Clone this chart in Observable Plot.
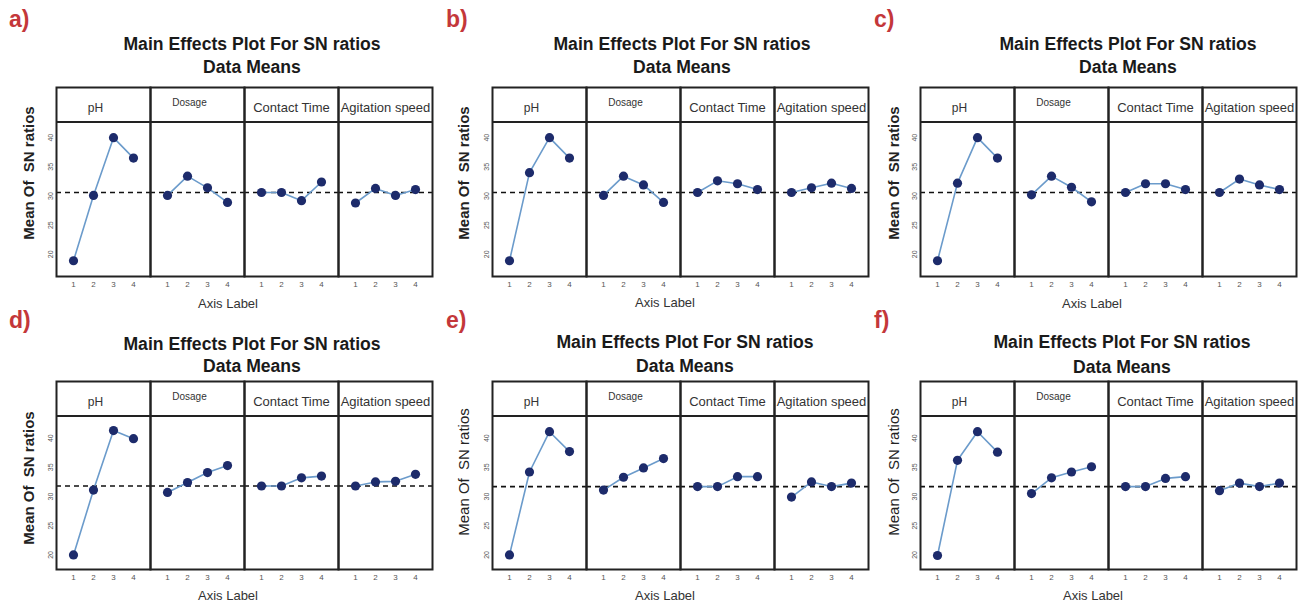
<!DOCTYPE html>
<html><head><meta charset="utf-8">
<script src="https://cdn.jsdelivr.net/npm/d3@7"></script>
<script src="https://cdn.jsdelivr.net/npm/@observablehq/plot@0.6"></script>
<style>
body{margin:0;background:#fff;font-family:"Liberation Sans",Arial,sans-serif;}
#root{position:relative;width:1304px;height:606px;overflow:hidden;background:#fff;}
.abs{position:absolute;white-space:pre;line-height:1;}
.letter{font-size:23px;font-weight:bold;color:#c4373a;}
.title{font-size:17.6px;font-weight:bold;color:#1a1a1a;transform:translate(-50%,-50%);}
.axl{font-size:13px;color:#333;transform:translate(-50%,-50%);}
.yl{font-size:15px;color:#222;transform:translate(-50%,-50%) rotate(-90deg);}
#root svg{position:absolute;overflow:visible;}
</style></head><body><div id="root"></div>
<script>
// ---- data ----
const factors = ["pH", "Dosage", "Contact Time", "Agitation speed"];
const levels = [1, 2, 3, 4];
const yTicks = [20, 25, 30, 35, 40];
const panelLetters = ["a)", "b)", "c)", "d)", "e)", "f)"];
const titleText = "Main Effects Plot For SN ratios";
const subtitleText = "Data Means";
const xAxisLabel = "Axis Label";
const yAxisLabel = "Mean Of  SN ratios";

const a_pH = [18.9, 30.1, 40.0, 36.5];
const a_dosage = [30.1, 33.4, 31.4, 28.9];
const a_time = [30.6, 30.6, 29.2, 32.4];
const a_speed = [28.8, 31.3, 30.1, 31.1];

const b_pH = [18.9, 34.0, 40.0, 36.5];
const b_dosage = [30.1, 33.4, 31.9, 28.9];
const b_time = [30.6, 32.6, 32.1, 31.1];
const b_speed = [30.6, 31.4, 32.2, 31.3];

const c_pH = [18.9, 32.2, 40.0, 36.5];
const c_dosage = [30.2, 33.4, 31.5, 29.0];
const c_time = [30.6, 32.1, 32.1, 31.1];
const c_speed = [30.6, 32.9, 31.9, 31.1];

const d_pH = [20.0, 31.1, 41.3, 39.9];
const d_dosage = [30.7, 32.4, 34.1, 35.3];
const d_time = [31.8, 31.8, 33.2, 33.5];
const d_speed = [31.8, 32.5, 32.6, 33.8];

const e_pH = [20.0, 34.2, 41.1, 37.7];
const e_dosage = [31.1, 33.3, 34.9, 36.5];
const e_time = [31.7, 31.7, 33.4, 33.4];
const e_speed = [29.9, 32.5, 31.7, 32.3];

const f_pH = [19.9, 36.2, 41.1, 37.6];
const f_dosage = [30.5, 33.2, 34.2, 35.1];
const f_time = [31.7, 31.7, 33.1, 33.4];
const f_speed = [31.0, 32.3, 31.7, 32.3];

const grandMeans = [30.6, 30.6, 30.6, 31.8, 31.7, 31.7];

const panelValues = [
  [a_pH, a_dosage, a_time, a_speed],
  [b_pH, b_dosage, b_time, b_speed],
  [c_pH, c_dosage, c_time, c_speed],
  [d_pH, d_dosage, d_time, d_speed],
  [e_pH, e_dosage, e_time, e_speed],
  [f_pH, f_dosage, f_time, f_speed]
];

// ---- layout ----
const colFrameLeft = [54, 490, 918];
const rowFrameTop = [87, 381];
const rowScale = [
  {lo: 16.2, strip: 42.7, top: 48.6, h: 189},
  {lo: 17.5, strip: 43.8, top: 49.7, h: 188}
];
const layout = [
  {letterX: 9,   letterY: 8,   titleX: 252,  titleY: 45,  subY: 68,  axX: 228,  axY: 303, ylX: 28,  ylY: 173, bold: true},
  {letterX: 446, letterY: 8,   titleX: 682,  titleY: 45,  subY: 68,  axX: 665,  axY: 302, ylX: 463, ylY: 173, bold: true},
  {letterX: 874, letterY: 8,   titleX: 1128, titleY: 45,  subY: 68,  axX: 1092, axY: 303, ylX: 893, ylY: 173, bold: true},
  {letterX: 9,   letterY: 309, titleX: 252,  titleY: 345, subY: 367, axX: 228,  axY: 595, ylX: 28,  ylY: 478, bold: true},
  {letterX: 446, letterY: 309, titleX: 685,  titleY: 343, subY: 367, axX: 665,  axY: 595, ylX: 463, ylY: 472, bold: false},
  {letterX: 874, letterY: 309, titleX: 1122, titleY: 343, subY: 368, axX: 1093, axY: 595, ylX: 893, ylY: 472, bold: false}
];
const ML = 54, MR = 6, MT = 2, MB = 36, FW = 379;

const root = document.getElementById("root");
function addText(cls, txt, x, y, extra) {
  const d = document.createElement("div");
  d.className = "abs " + cls;
  d.textContent = txt;
  d.style.left = x + "px";
  d.style.top = y + "px";
  if (extra) Object.assign(d.style, extra);
  root.appendChild(d);
}

function makePanel(values, mean, rs) {
  const rows = [];
  factors.forEach((f, i) => values[i].forEach((v, j) => rows.push({f, level: levels[j], v})));
  const strip = [
    {f: "pH", t: "pH", size: 12, dx: -8, dy: 16},
    {f: "Dosage", t: "Dosage", size: 10, dx: -8, dy: 11},
    {f: "Contact Time", t: "Contact Time", size: 13, dx: 0, dy: 15},
    {f: "Agitation speed", t: "Agitation speed", size: 13, dx: 0, dy: 15}
  ];
  const stripMarks = strip.map(s => Plot.text([s], {
    fx: "f", text: "t", frameAnchor: "top", dx: s.dx, dy: s.dy,
    fontSize: s.size, fill: "#333"
  }));
  return Plot.plot({
    width: ML + FW + MR, height: MT + rs.h + MB,
    marginLeft: ML, marginRight: MR, marginTop: MT, marginBottom: MB,
    style: {fontFamily: "Liberation Sans, Arial, sans-serif", background: "transparent"},
    fx: {domain: factors, padding: 0, axis: null, label: null},
    x: {type: "point", domain: levels, padding: 0.8},
    y: {domain: [rs.lo, rs.top]},
    marks: [
      Plot.ruleY([mean], {stroke: "#111", strokeWidth: 1.6, strokeDasharray: "5,4"}),
      Plot.line(rows, {fx: "f", x: "level", y: "v", stroke: "#6b9bcb", strokeWidth: 1.6}),
      Plot.dot(rows, {fx: "f", x: "level", y: "v", r: 4.6, fill: "#1d2b6b"}),
      Plot.ruleY([rs.strip], {stroke: "#222", strokeWidth: 2}),
      Plot.frame({stroke: "#222", strokeWidth: 2}),
      Plot.axisX({tickSize: 0, tickPadding: 5, fontSize: 8, label: null, fill: "#555"}),
      Plot.axisY(yTicks, {tickSize: 0, tickRotate: -90, tickPadding: 4, fontSize: 7, label: null, fill: "#555"}),
      ...stripMarks
    ]
  });
}

panelValues.forEach((vals, p) => {
  const col = p % 3, row = Math.floor(p / 3);
  const rs = rowScale[row];
  const L = layout[p];
  const svg = makePanel(vals, grandMeans[p], rs);
  svg.style.left = (colFrameLeft[col] - ML) + "px";
  svg.style.top = (rowFrameTop[row] - MT) + "px";
  root.appendChild(svg);
  addText("letter", panelLetters[p], L.letterX, L.letterY);
  addText("title", titleText, L.titleX, L.titleY);
  addText("title", subtitleText, L.titleX, L.subY);
  addText("axl", xAxisLabel, L.axX, L.axY);
  addText("yl", yAxisLabel, L.ylX, L.ylY, {fontWeight: L.bold ? "bold" : "normal"});
});
</script></body></html>
